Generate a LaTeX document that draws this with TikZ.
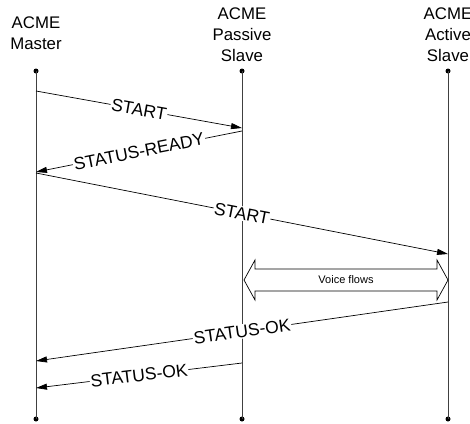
\documentclass[tikz,border=0pt]{standalone}
\usepackage{fontspec}
\setmainfont{Liberation Sans}
\usetikzlibrary{arrows.meta}
\begin{document}
\begin{tikzpicture}[x=1pt,y=-1pt,
  party/.style={anchor=south,inner sep=0pt,align=center,text depth=0pt,
    font=\fontsize{16.8}{21}\selectfont},
  lifeline/.style={draw=black!75,line width=0.9pt},
  enddot/.style={circle,fill=black,inner sep=0pt,minimum size=5pt},
  msg/.style={draw=black,line width=0.7pt,-{Triangle[length=11pt,width=6pt]}},
  msglabel/.style={midway,sloped,fill=white,inner sep=1pt,
    font=\fontsize{17.5}{20}\selectfont}]
  \useasboundingbox (0,0) rectangle (470,423);

  % participants
  \node[party] (hm) at (36,50) {ACME\\Master};
  \node[party] (hp) at (242,62) {ACME\\Passive\\Slave};
  \node[party] (ha) at (448,62) {ACME\\Active\\Slave};

  % lifelines with their end dots
  \node[enddot] (mt) at (36,71) {};
  \node[enddot] (mb) at (36,419) {};
  \node[enddot] (pt) at (242,71) {};
  \node[enddot] (pb) at (242,419) {};
  \node[enddot] (at) at (448,71) {};
  \node[enddot] (ab) at (448,419) {};
  \draw[lifeline] (mt.center) -- (mb.center);
  \draw[lifeline] (pt.center) -- (pb.center);
  \draw[lifeline] (at.center) -- (ab.center);

  % message end points on the lifelines
  \coordinate (m1) at (36,91);   \coordinate (p1) at (242,128);
  \coordinate (p2) at (242,131); \coordinate (m2) at (36,172);
  \coordinate (m3) at (36,173);  \coordinate (a3) at (448,254);
  \coordinate (a4) at (448,302); \coordinate (m4) at (36,361);
  \coordinate (p5) at (242,363); \coordinate (m5) at (36,388);

  % messages
  \draw[msg] (m1) -- node[msglabel] {START} (p1);
  \draw[msg] (p2) -- node[msglabel] {STATUS-READY} (m2);
  \draw[msg] (m3) -- node[msglabel] {START} (a3);
  \draw[msg] (a4) -- node[msglabel] {STATUS-OK} (m4);
  \draw[msg] (p5) -- node[msglabel] {STATUS-OK} (m5);

  % voice flows between the two slaves
  \draw[fill=white,line width=0.7pt]
    (244,280) -- (255,260) -- (255,269) -- (437,269) -- (437,260)
    -- (448,280) -- (437,300) -- (437,291) -- (255,291) -- (255,300) -- cycle;
  \node[font=\fontsize{11}{13}\selectfont,inner sep=0pt] (vf) at (346,280) {Voice flows};
\end{tikzpicture}
\end{document}
